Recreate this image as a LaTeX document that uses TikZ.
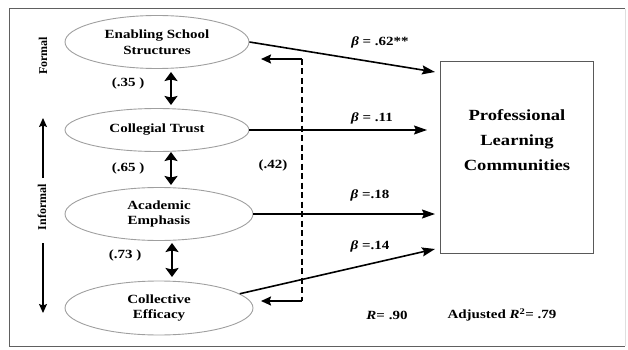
\documentclass[tikz,border=0pt]{standalone}
\usepackage{fontspec}
\setmainfont{Liberation Serif}[FakeStretch=1.2]
\newfontfamily\plainserif{Liberation Serif}
\usetikzlibrary{shapes.geometric,arrows.meta}
\tikzset{
  ell/.style={ellipse, draw=gray!75, line width=0.9pt, align=center, inner sep=0pt,
    font=\bfseries\fontsize{12.5}{15.5}\selectfont},
  lbl/.style={font=\bfseries\fontsize{12.5}{15}\selectfont, inner sep=0pt},
  side/.style={font=\plainserif\bfseries\fontsize{12}{14}\selectfont, rotate=90, inner sep=0pt},
  conn/.style={line width=1.6pt, -{Stealth[length=13pt,width=9pt,inset=2pt]}},
  dbl/.style={line width=2.6pt, {Stealth[length=9pt,width=13pt,inset=1.5pt]}-{Stealth[length=9pt,width=13pt,inset=1.5pt]}},
  vert/.style={line width=1.2pt, -{Stealth[length=9pt,width=8pt,inset=1.5pt]}},
  dashline/.style={line width=1.8pt, dash pattern=on 6pt off 3.5pt},
  elbow/.style={line width=1.8pt, -{Stealth[length=10pt,width=9pt,inset=1.5pt]}},
}
\begin{document}
\begin{tikzpicture}[x=1pt,y=-1pt]
\useasboundingbox (0,0) rectangle (628,350);
% frame
\draw[gray!75!black, line width=1pt] (625,9) -- (9,9) -- (9,346) -- (625,346);
\draw[gray!25, line width=0.8pt] (625,9) -- (625,346);

% ellipses
\node[ell, minimum width=184pt, minimum height=53pt] (ess) at (157,42) {Enabling School\\Structures};
\node[ell, minimum width=184pt, minimum height=43pt] (ct) at (157,130) {Collegial Trust};
\node[ell, minimum width=188pt, minimum height=53pt] (ae) at (159,214) {Academic\\Emphasis};
\node[ell, minimum width=188pt, minimum height=54pt] (ce) at (159,308) {Collective\\Efficacy};

% outcome box
\node[draw=gray!70!black, line width=1pt, minimum width=153pt, minimum height=191pt, inner sep=0pt] (plc) at (516.5,157.5) {};
\node[align=center, font=\bfseries\fontsize{15.5}{25}\selectfont] (plct) at (517,140) {Professional\\Learning\\Communities};

% arrow targets
\coordinate (t1) at (435,72);
\coordinate (t2) at (427,130);
\coordinate (t3) at (435,214);
\coordinate (t4) at (435,249);
\draw[conn] (ess.east) -- (t1);
\draw[conn] (ct.east) -- (t2);
\draw[conn] (ae.east) -- (t3);
\draw[conn] (ce.10) -- (t4);

\node[lbl] (b1) at (380,42) {\textit{β} = .62**};
\node[lbl] (b2) at (372,118) {\textit{β} = .11};
\node[lbl] (b3) at (370,195) {\textit{β} =.18};
\node[lbl] (b4) at (370,246) {\textit{β} =.14};

% correlations
\coordinate (d1a) at (171,72);  \coordinate (d1b) at (171,105);
\coordinate (d2a) at (171,152); \coordinate (d2b) at (171,185);
\coordinate (d3a) at (172,243); \coordinate (d3b) at (172,277);
\draw[dbl] (d1a) -- (d1b);
\draw[dbl] (d2a) -- (d2b);
\draw[dbl] (d3a) -- (d3b);
\node[lbl] (r1) at (128,83) {(.35 )};
\node[lbl] (r2) at (128,168) {(.65 )};
\node[lbl] (r3) at (125,255) {(.73 )};

% dashed link
\coordinate (k1) at (302,59);
\coordinate (k2) at (302,301);
\coordinate (e1) at (261,59);
\coordinate (e2) at (261,301);
\draw[elbow] (k1) -- (e1);
\draw[elbow] (k2) -- (e2);
\draw[dashline] (k1) -- (k2);
\node[lbl] (r4) at (273,165) {(.42)};

% side labels
\node[side] (fo) at (43,56) {Formal};
\node[side] (inf) at (42,207) {Informal};
\coordinate (u1) at (43,178); \coordinate (u2) at (43,118);
\coordinate (w1) at (43,243); \coordinate (w2) at (43,313);
\draw[vert] (u1) -- (u2);
\draw[vert] (w1) -- (w2);

% fit statistics
\node[lbl] (rr) at (387,315) {\textit{R}= .90};
\node[lbl] (ar) at (502,315) {Adjusted \textit{R}\textsuperscript{2}= .79};
\end{tikzpicture}
\end{document}
